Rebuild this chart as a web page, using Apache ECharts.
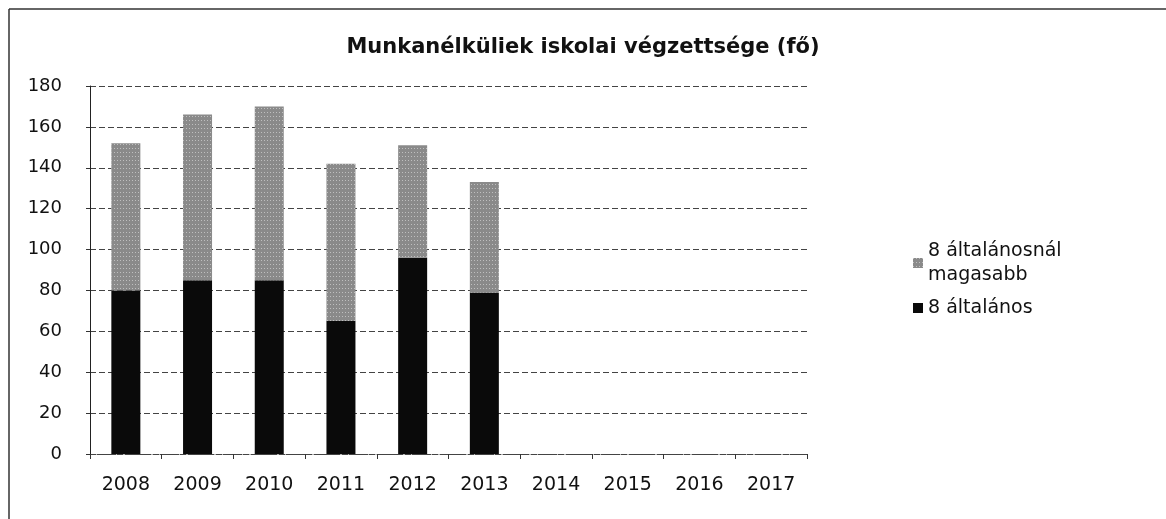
<!DOCTYPE html>
<html>
<head>
<meta charset="utf-8">
<script src="https://cdn.jsdelivr.net/npm/echarts@6/dist/echarts.min.js"></script>
<style>
  html, body { margin: 0; padding: 0; background: #fff; }
  #chart { width: 1166px; height: 519px; }
</style>
</head>
<body>
<div id="chart"></div>
<script>
var years = ["2008", "2009", "2010", "2011", "2012", "2013", "2014", "2015", "2016", "2017"];
// 8 általános (bottom, black)
var basic = [80, 85, 85, 65, 96, 79, null, null, null, null];
// 8 általánosnál magasabb (top, grey)
var higher = [72, 81, 85, 77, 55, 54, null, null, null, null];
var yTicks = { min: 0, max: 180, interval: 20 };

var dom = document.getElementById("chart");
var myChart = echarts.init(dom, null, { renderer: "canvas" });

var option = {
  backgroundColor: "#fff",
  animation: false,
  textStyle: { fontFamily: "DejaVu Sans", color: "#111" },
  title: {
    text: "Munkanélküliek iskolai végzettsége (fő)",
    left: "center",
    top: 32,
    textStyle: { fontFamily: "DejaVu Sans", fontSize: 21, fontWeight: "bold", color: "#111" },
  },
  legend: {
    orient: "vertical",
    left: 908,
    top: 234,
    icon: "rect",
    itemWidth: 10,
    itemHeight: 10,
    itemGap: 9,
    data: ["8 általánosnál\nmagasabb", "8 általános"],
    textStyle: { fontFamily: "DejaVu Sans", fontSize: 19, color: "#111", lineHeight: 24 },
  },
  grid: { left: 90, right: 359, top: 86, bottom: 65 },
  xAxis: {
    type: "category",
    data: years,
    axisLine: { show: true, lineStyle: { color: "#444", type: [5, 2], width: 1 } },
    axisTick: { show: true, length: 5, lineStyle: { color: "#333" } },
    axisLabel: { fontFamily: "DejaVu Sans", fontSize: 19, color: "#111", margin: 22 },
  },
  yAxis: {
    type: "value",
    min: yTicks.min,
    max: yTicks.max,
    interval: yTicks.interval,
    axisLine: { show: true, lineStyle: { color: "#222", width: 1 } },
    axisTick: { show: true, length: 4, lineStyle: { color: "#333" } },
    axisLabel: { fontFamily: "DejaVu Sans", fontSize: 18, color: "#111", margin: 28 },
    splitLine: { show: true, lineStyle: { color: "#444", type: [6, 3], width: 1 } },
  },
  series: [
    {
      name: "8 általános",
      type: "bar",
      stack: "total",
      barWidth: 29,
      data: basic,
      itemStyle: { color: "#0a0a0a" },
    },
    {
      name: "8 általánosnál\nmagasabb",
      type: "bar",
      stack: "total",
      barWidth: 29,
      data: higher,
      itemStyle: {
        color: "#8a8a8a",
        decal: {
          symbol: "rect",
          symbolSize: 1,
          color: "rgba(255,255,255,0.45)",
          dashArrayX: [1, 2],
          dashArrayY: [1, 3],
          rotation: 0,
        },
      },
    },
  ],
  graphic: [
    { type: "line", shape: { x1: 9, y1: 9, x2: 1166, y2: 9 }, style: { stroke: "#333", lineWidth: 1.5 } },
    { type: "line", shape: { x1: 9, y1: 9, x2: 9, y2: 519 }, style: { stroke: "#333", lineWidth: 1.5 } },
  ],
};

option && "object" == typeof option && myChart.setOption(option, true);
</script>
</body>
</html>
